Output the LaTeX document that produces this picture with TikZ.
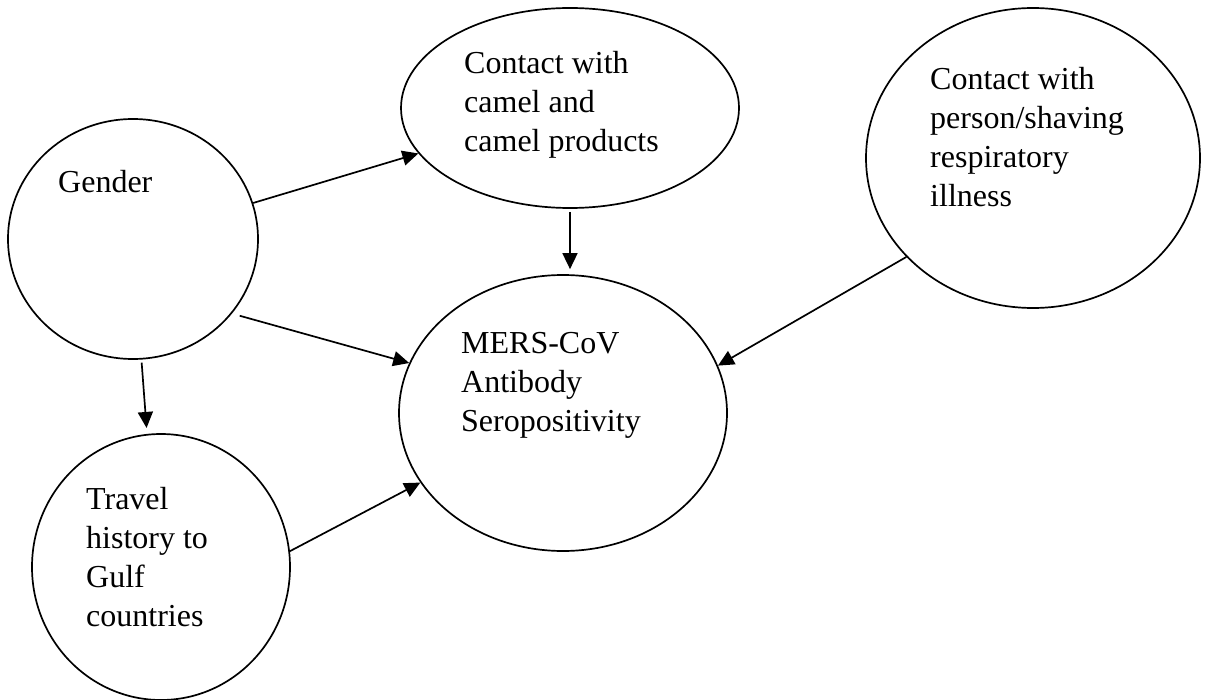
\documentclass[tikz,border=0pt]{standalone}
\usepackage{fontspec}
\setmainfont{Liberation Serif}
\usetikzlibrary{arrows.meta,shapes.geometric}
\begin{document}
\begin{tikzpicture}[x=1pt,y=-1pt,
  oval/.style={draw,ellipse,line width=1.7pt,inner sep=0pt},
  lbl/.style={anchor=base west,inner sep=0pt,font=\fontsize{32}{39}\selectfont},
  arr/.style={line width=1.7pt,-{Triangle[length=16pt,width=15pt]}}]
\useasboundingbox (0,0) rectangle (1209,700);
% ovals
\node[oval,minimum width=250pt,minimum height=240pt] (gender) at (133,239) {};
\node[oval,minimum width=338pt,minimum height=200pt] (camel) at (570,108) {};
\node[oval,minimum width=334pt,minimum height=300pt] (person) at (1033,158) {};
\node[oval,minimum width=328pt,minimum height=276pt] (mers) at (563,413) {};
\node[oval,minimum width=258pt,minimum height=266pt] (travel) at (161,567) {};
% texts
\node[lbl] (genderT) at (58,193) {Gender};
\node[lbl] (camelT) at (464,74) {\begin{tabular}[t]{@{}l@{}}Contact with\\camel and\\camel products\end{tabular}};
\node[lbl] (personT) at (930,90) {\begin{tabular}[t]{@{}l@{}}Contact with\\person/shaving\\respiratory\\illness\end{tabular}};
\node[lbl] (mersT) at (461,353) {\begin{tabular}[t]{@{}l@{}}MERS-CoV\\Antibody\\Seropositivity\end{tabular}};
\node[lbl] (travelT) at (86,509) {\begin{tabular}[t]{@{}l@{}}Travel\\history to\\Gulf\\countries\end{tabular}};
% arrows
\draw[arr] (gender) -- (camel);
\draw[arr,shorten <=3pt,shorten >=5pt] (camel.south) -- (camel.south |- mers.north);
\draw[arr,shorten <=8pt] (gender.-37) -- (mers.162);
\draw[arr,shorten <=3pt,shorten >=6pt] (gender.-86) -- (travel.96);
\draw[arr] (travel.7) -- (mers.206);
\draw[arr] (person.218) -- (mers.17);
\end{tikzpicture}
\end{document}
